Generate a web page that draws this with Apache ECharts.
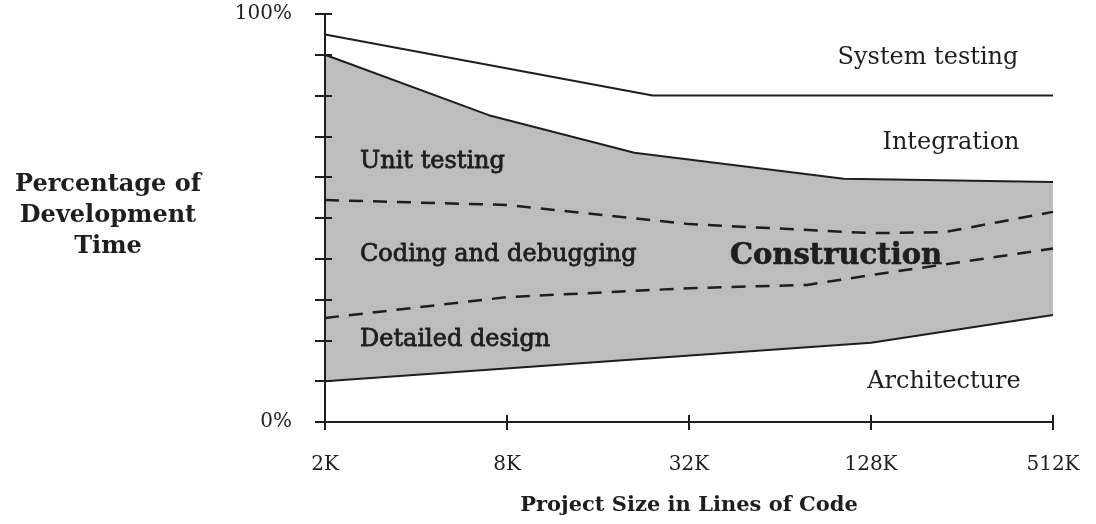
<!DOCTYPE html>
<html>
<head>
<meta charset="UTF-8">
<title>Percentage of Development Time</title>
<script src="https://cdn.jsdelivr.net/npm/echarts@6/dist/echarts.min.js"></script>
<style>
* { margin: 0; padding: 0; }
body { background: #fff; }
#chart { width: 1096px; height: 524px; }
</style>
</head>
<body>
<div id="chart"></div>
<script>
// x value is log2(size / 2K): 0 = 2K, 2 = 8K, 4 = 32K, 6 = 128K, 8 = 512K
var sizeLabels = { 0: '2K', 2: '8K', 4: '32K', 6: '128K', 8: '512K' };

// top edge of each activity band, in % of development time
var systemTop       = [[0, 95], [3.6, 80], [8, 80]];
var constructionTop = [[0, 90], [1.8, 75.2], [3.4, 66], [5.7, 59.6], [8, 58.8]];
var codingTop       = [[0, 54.4], [2, 53.2], [4, 48.5], [6, 46.3], [6.8, 46.5], [8, 51.5]];
var designTop       = [[0, 25.5], [2, 30.6], [4, 32.8], [5.3, 33.6], [6, 36], [8, 42.5]];
var architectureTop = [[0, 10], [6, 19.4], [8, 26.2]];

var serif = '"DejaVu Serif", "Liberation Serif", serif';
var ink = '#1e1e1e';

var chart = echarts.init(document.getElementById('chart'), null, { renderer: 'canvas' });

function solid(name, data, fill, z) {
    return {
        name: name, type: 'line', data: data, showSymbol: false, z: z,
        lineStyle: { color: ink, width: 2 },
        areaStyle: fill ? { color: fill, opacity: 1 } : undefined,
        silent: true, animation: false
    };
}
function dashed(name, data) {
    return {
        name: name, type: 'line', data: data, showSymbol: false, z: 4,
        lineStyle: { color: ink, width: 2.5, type: [14, 10] },
        silent: true, animation: false
    };
}
// heavy = slightly thicker strokes, like the printed labels inside the grey band
function label(text, x, y, size, align, weight, heavy) {
    return {
        type: 'text', x: x, y: y, z: 100,
        style: {
            text: text, fill: ink, align: align || 'left', verticalAlign: 'middle',
            font: (weight || 'normal') + ' ' + size + 'px ' + serif,
            stroke: heavy ? ink : null, lineWidth: heavy ? heavy : 0
        }
    };
}

chart.setOption({
    backgroundColor: '#fff',
    animation: false,
    grid: { left: 325, right: 43, top: 14, bottom: 102 },
    xAxis: [{
        type: 'value', min: 0, max: 8, interval: 2, position: 'bottom', z: 10,
        axisLine: { lineStyle: { color: ink, width: 2 } },
        axisTick: { length: 8, lineStyle: { color: ink, width: 2 } },
        axisLabel: {
            margin: 33, color: ink, fontFamily: serif, fontSize: 20,
            formatter: function (v) { return sizeLabels[v] || ''; }
        },
        splitLine: { show: false },
        name: 'Project Size in Lines of Code', nameLocation: 'middle', nameGap: 73,
        nameTextStyle: { color: ink, fontFamily: serif, fontSize: 21, fontWeight: 'bold' }
    }, {
        type: 'value', min: 0, max: 8, interval: 2, position: 'bottom', z: 10,
        axisLine: { show: false },
        axisTick: { inside: true, length: 7, lineStyle: { color: ink, width: 2 } },
        axisLabel: { show: false }, splitLine: { show: false }
    }, {
        type: 'value', min: 0, max: 8, position: 'top', z: 10,
        axisLine: { lineStyle: { color: ink, width: 2 } },
        axisTick: { show: false }, axisLabel: { show: false }, splitLine: { show: false }
    }],
    yAxis: [{
        type: 'value', min: 0, max: 100, interval: 10, position: 'left', z: 10,
        axisLine: { lineStyle: { color: ink, width: 2 } },
        axisTick: { length: 10, lineStyle: { color: ink, width: 2 } },
        axisLabel: {
            margin: 33, color: ink, fontFamily: serif, fontSize: 20,
            padding: [12, 0, 0, 0],
            formatter: function (v) { return v === 0 || v === 100 ? v + '%' : ''; }
        },
        splitLine: { show: false }
    }, {
        type: 'value', min: 0, max: 100, interval: 10, position: 'left', z: 10,
        axisLine: { show: false },
        axisTick: { inside: true, length: 7, lineStyle: { color: ink, width: 2 } },
        axisLabel: { show: false }, splitLine: { show: false }
    }, {
        type: 'value', min: 0, max: 100, position: 'right', z: 10,
        axisLine: { lineStyle: { color: ink, width: 2 } },
        axisTick: { show: false }, axisLabel: { show: false }, splitLine: { show: false }
    }],
    series: [
        solid('Construction', constructionTop, '#bdbdbd', 2),
        solid('Architecture', architectureTop, '#ffffff', 3),
        solid('System testing', systemTop, null, 3),
        dashed('Coding and debugging', codingTop),
        dashed('Detailed design', designTop)
    ],
    graphic: [
        label('System testing', 928, 58, 24, 'center'),
        label('Integration', 951, 143, 24, 'center'),
        label('Unit testing', 360, 162, 24, 'left', 'normal', 0.8),
        label('Coding and debugging', 360, 255, 24, 'left', 'normal', 0.8),
        label('Detailed design', 360, 340, 24, 'left', 'normal', 0.8),
        label('Construction', 730, 256, 29, 'left', 'bold', 0.6),
        label('Architecture', 944, 382, 24, 'center'),
        {
            type: 'text', x: 108, y: 216, z: 100,
            style: {
                text: 'Percentage of\nDevelopment\nTime', fill: ink,
                align: 'center', verticalAlign: 'middle', lineHeight: 31,
                font: 'bold 24px ' + serif
            }
        }
    ]
});
</script>
</body>
</html>
